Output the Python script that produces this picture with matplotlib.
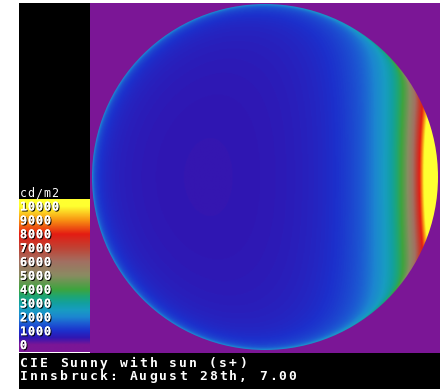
import numpy as np
import matplotlib
matplotlib.use("Agg")
import matplotlib.pyplot as plt
import matplotlib.patheffects as pe
from matplotlib.colors import LinearSegmentedColormap, Normalize
from matplotlib.patches import Rectangle, Circle

# sky model: diffuse part with horizon gradation + circumsolar aureole
# (sun low in the east, on the right side of the picture)
sun_altitude = 5.0       # degrees
diffuse_lum = 450.0      # cd/m2 at the zenith
grad_a, grad_b = -0.95, -0.2
aureole_lum = 30000.0    # cd/m2 at the sun
aureole_decay = -3.8     # per radian

# false colour scale, cd/m2
levels = [0, 500, 1000, 1500, 2000, 2500, 3000, 3500, 4000,
          5000, 6000, 7000, 8000, 9000, 10000]
level_colors = ['#7b1696', '#3016b2', '#1c30cc', '#1c58d2', '#1c86d0',
                '#189cc2', '#12a0a0', '#1fa672', '#3ea43e',
                '#8a8c62', '#a27062', '#c04234', '#e41c12', '#f89212',
                '#ffff30']
legend_values = [10000, 9000, 8000, 7000, 6000, 5000, 4000, 3000, 2000, 1000, 0]
legend_labels = ['10000', '9000', '8000', '7000', '6000', '5000',
                 '4000', '3000', '2000', '1000', '0']
unit_label = 'cd/m2'
title_lines = ['CIE Sunny with sun (s+)', 'Innsbruck: August 28th, 7.00']

purple = level_colors[0]
mono = 'DejaVu Sans Mono'


def gradation(zen):
    cz = np.maximum(np.cos(zen), 1e-6)
    return 1 + grad_a * np.exp(grad_b / cz)


def sky_luminance(n=500):
    h = np.radians(sun_altitude)
    t = np.linspace(-1, 1, n)
    xx, yy = np.meshgrid(t, t)
    zz = np.sqrt(np.clip(1 - xx ** 2 - yy ** 2, 0, 1))
    zen = np.arccos(zz)
    chi = np.arccos(np.clip(xx * np.cos(h) + zz * np.sin(h), -1, 1))
    diffuse = diffuse_lum * gradation(zen) / gradation(0.0)
    return diffuse + aureole_lum * np.exp(aureole_decay * chi)


def spaced_text(ax, x, y, s, advance, **kw):
    # the original uses wide letter spacing, so place glyphs one by one
    for i, ch in enumerate(s):
        if ch != ' ':
            ax.text(x + advance * (i + 0.5), y, ch, ha='center', va='baseline',
                    family=mono, **kw)


cmap = LinearSegmentedColormap.from_list(
    'falsecolor', [(v / levels[-1], c) for v, c in zip(levels, level_colors)])
cmap.set_under(purple)
cmap.set_over(level_colors[-1])
norm = Normalize(0, 10000)

fig = plt.figure(figsize=(4.4, 3.89), dpi=100)
ax = fig.add_axes([0, 0, 1, 1])
ax.set_xlim(0, 440)
ax.set_ylim(389, 0)
ax.axis('off')

# panels
ax.add_patch(Rectangle((18.5, 3), 71, 197, color='black', lw=0))
ax.add_patch(Rectangle((89.5, 3), 351, 351, color=purple, lw=0))
ax.add_patch(Rectangle((18.5, 353), 422, 36, color='black', lw=0))

# sky dome (orthographic view)
cx, cy, R = 265, 177, 173
im = ax.imshow(sky_luminance(), cmap=cmap, norm=norm, interpolation='bilinear',
               extent=(cx - R, cx + R, cy + R, cy - R), origin='upper', zorder=2)
im.set_clip_path(Circle((cx, cy), R, transform=ax.transData))

# legend
lo, hi = -500, 10500
y_top, y_bot = 199.5, 352
bar = np.linspace(hi, lo, 400)[:, None]
ax.imshow(bar, cmap=cmap, norm=norm, aspect='auto',
          extent=(18.5, 89.5, y_bot, y_top), origin='upper', zorder=2)
shadow = [pe.withSimplePatchShadow(offset=(0.8, -0.8), shadow_rgbFace='black', alpha=0.9),
          pe.Normal()]
for v, lab in zip(legend_values, legend_labels):
    y = y_bot - (v - lo) / (hi - lo) * (y_bot - y_top)
    spaced_text(ax, 19.5, y + 4.0, lab, 8.0, color='white', fontsize=8.6,
                fontweight='bold', path_effects=shadow, zorder=3)
spaced_text(ax, 19.5, 197, unit_label, 7.8, color='white', fontsize=8.4, zorder=3)

# caption
spaced_text(ax, 19, 366.8, title_lines[0], 9.95, color='white', fontsize=9.4,
            fontweight='bold', zorder=3)
spaced_text(ax, 19, 380, title_lines[1], 9.95, color='white', fontsize=9.4,
            fontweight='bold', zorder=3)

fig.savefig('out.png', dpi=100)
